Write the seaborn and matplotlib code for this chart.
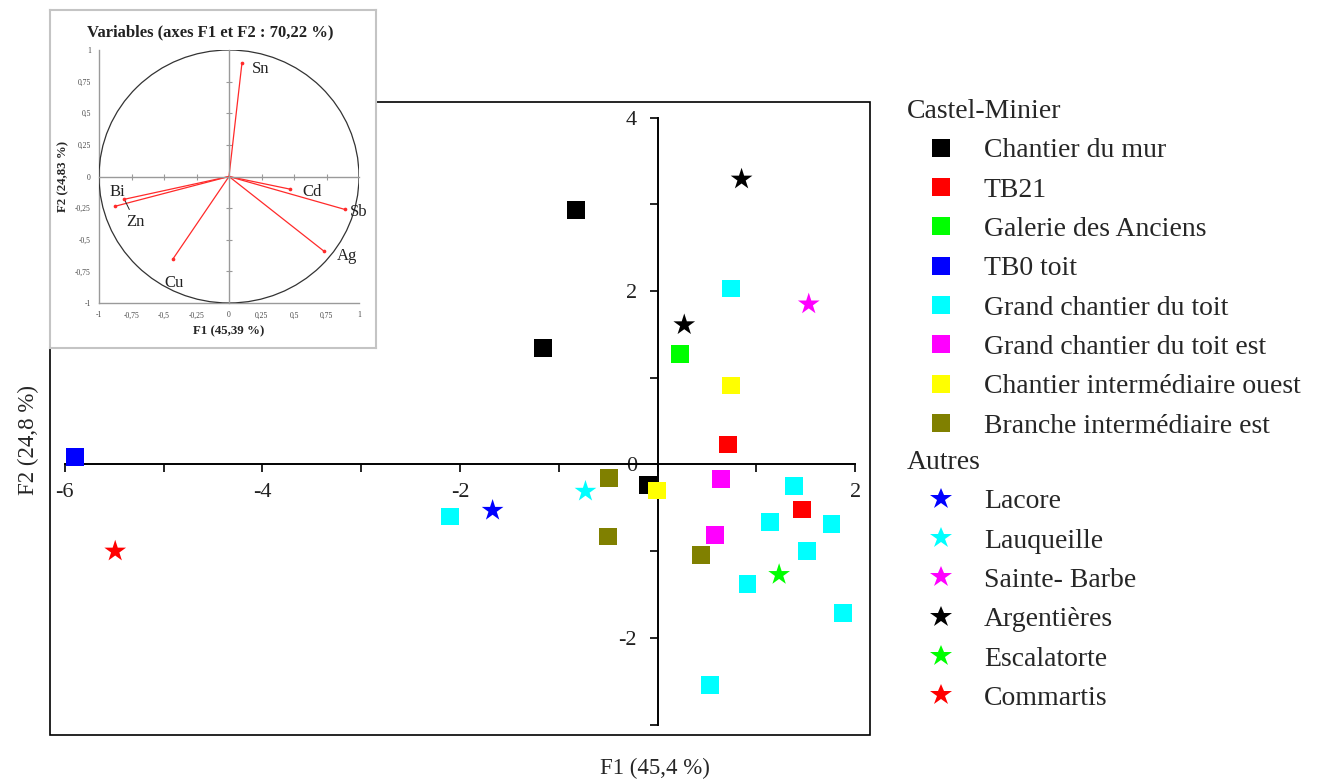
import numpy as np
import pandas as pd
import seaborn as sns
import matplotlib.pyplot as plt
from matplotlib.lines import Line2D
from matplotlib.patches import Rectangle, Circle
from matplotlib.ticker import FuncFormatter

# -----------------------------
# data
# -----------------------------
castel_sites = ["Chantier du mur", "TB21", "Galerie des Anciens", "TB0 toit",
                "Grand chantier du toit", "Grand chantier du toit est",
                "Chantier intermédiaire ouest", "Branche intermédiaire est"]
castel_colors = ["#000000", "#ff0000", "#00ff00", "#0000ff",
                 "#00ffff", "#ff00ff", "#ffff00", "#808000"]
castel_f1 = [[-0.83, -1.16, -0.10],
             [0.71, 1.46],
             [0.23],
             [-5.90],
             [-2.10, 0.74, 1.38, 1.14, 1.76, 1.51, 0.91, 1.88, 0.53],
             [0.64, 0.58],
             [0.74, -0.01],
             [-0.49, -0.50, 0.44]]
castel_f2 = [[2.93, 1.34, -0.24],
             [0.23, -0.52],
             [1.27],
             [0.09],
             [-0.60, 2.03, -0.25, -0.66, -0.69, -1.00, -1.38, -1.71, -2.54],
             [-0.17, -0.81],
             [0.91, -0.30],
             [-0.16, -0.83, -1.04]]

autres_sites = ["Lacore", "Lauqueille", "Sainte- Barbe", "Argentières",
                "Escalatorte", "Commartis"]
autres_colors = ["#0000ff", "#00ffff", "#ff00ff", "#000000", "#00ff00", "#ff0000"]
autres_f1 = [[-1.67], [-0.73], [1.53], [0.85, 0.27], [1.23], [-5.49]]
autres_f2 = [[-0.53], [-0.31], [1.85], [3.29, 1.61], [-1.27], [-1.00]]

x_ticks = [-6, -4, -2, 0, 2]
x_tick_labels = ["-6", "-4", "-2", "", "2"]
y_ticks = [-2, 0, 2, 4]
y_tick_labels = ["-2", "0", "2", "4"]

# cercle des corrélations
var_names = ["Sn", "Cd", "Sb", "Ag", "Cu", "Bi", "Zn"]
var_f1 = [0.10, 0.47, 0.89, 0.73, -0.43, -0.875, -0.805]
var_f2 = [0.90, -0.10, -0.26, -0.59, -0.65, -0.235, -0.18]
var_lab_x = [0.24, 0.64, 1.00, 0.91, -0.42, -0.86, -0.72]
var_lab_y = [0.85, -0.12, -0.28, -0.63, -0.84, -0.12, -0.36]
circle_ticks = [-1, -0.75, -0.5, -0.25, 0, 0.25, 0.5, 0.75, 1]

# -----------------------------
# tables
# -----------------------------
rows = []
for site, xs, ys in zip(castel_sites, castel_f1, castel_f2):
    for a, b in zip(xs, ys):
        rows.append({"F1": a, "F2": b, "site": site})
df_castel = pd.DataFrame(rows)

rows = []
for site, xs, ys in zip(autres_sites, autres_f1, autres_f2):
    for a, b in zip(xs, ys):
        rows.append({"F1": a, "F2": b, "site": site})
df_autres = pd.DataFrame(rows)

# -----------------------------
# figure
# -----------------------------
sns.set_theme(style="white")
plt.rcParams["font.family"] = ["Liberation Serif", "DejaVu Serif"]

W, H = 1332, 780
fig = plt.figure(figsize=(W / 100, H / 100), dpi=100)
ax = fig.add_axes([50 / W, 1 - 735 / H, 820 / W, 633 / H])

sns.scatterplot(data=df_castel, x="F1", y="F2", hue="site",
                palette=dict(zip(castel_sites, castel_colors)),
                marker="s", s=165, linewidth=0, legend=False, zorder=3, ax=ax)
sns.scatterplot(data=df_autres, x="F1", y="F2", hue="site",
                palette=dict(zip(autres_sites, autres_colors)),
                marker="*", s=270, linewidth=0, legend=False, zorder=3, ax=ax)

ax.set_xlim(-6.15, 2.15)
ax.set_ylim(-3.12, 4.18)

for side in ["top", "right"]:
    ax.spines[side].set_visible(False)
ax.spines["left"].set_position(("data", 0))
ax.spines["bottom"].set_position(("data", 0))
ax.spines["left"].set_bounds(-3, 4)
ax.spines["bottom"].set_bounds(-6, 2)
for side in ["left", "bottom"]:
    ax.spines[side].set_color("black")
    ax.spines[side].set_linewidth(1.4)

ax.set_xticks(x_ticks)
ax.set_xticklabels(x_tick_labels)
ax.set_xticks([-5, -3, -1, 1], minor=True)
ax.set_yticks(y_ticks)
ax.set_yticklabels(y_tick_labels)
ax.set_yticks([-3, -1, 1, 3], minor=True)
ax.tick_params(which="both", direction="out", length=6, width=1.2,
               color="black", labelsize=16, labelcolor="#222222",
               left=True, bottom=True)
ax.tick_params(axis="x", pad=7)
ax.tick_params(axis="y", pad=9)

ax.add_patch(Rectangle((0, 0), 1, 1, transform=ax.transAxes, fill=False,
                       ec="black", lw=1.2, clip_on=False, zorder=0))

ax.set_xlabel("F1 (45,4 %)", fontsize=16.5)
ax.xaxis.set_label_coords(0.738, -0.036)
ax.set_ylabel("F2 (24,8 %)", fontsize=16.5)
ax.yaxis.set_label_coords(-0.013, 0.466)

# -----------------------------
# legends
# -----------------------------
h1 = [Line2D([], [], marker="s", color=c, markersize=12.7, linestyle="none",
             markeredgewidth=0) for c in castel_colors]
h2 = [Line2D([], [], marker="*", color=c, markersize=16.5, linestyle="none",
             markeredgewidth=0) for c in autres_colors]
leg_kw = dict(loc="upper left", frameon=False, borderpad=0, borderaxespad=0,
              fontsize=20, title_fontsize=20, handlelength=2.45,
              handletextpad=0.32, labelspacing=0.5, alignment="left")
leg1 = fig.legend(h1, castel_sites, title="Castel-Minier",
                  bbox_to_anchor=(907 / W, 1 - 99 / H), **leg_kw)
leg2 = fig.legend(h2, autres_sites, title="Autres",
                  bbox_to_anchor=(907 / W, 1 - 450 / H), **leg_kw)

# -----------------------------
# inset : cercle des corrélations
# -----------------------------
panel = fig.add_axes([50 / W, 1 - 348 / H, 326 / W, 338 / H])
panel.set_xticks([])
panel.set_yticks([])
panel.set_facecolor("white")
for s in panel.spines.values():
    s.set_color("#c4c4c4")
    s.set_linewidth(1.5)

fmt = FuncFormatter(lambda v, p: f"{v:g}".replace(".", ","))
cax = fig.add_axes([99 / W, 1 - 303 / H, 260 / W, 253 / H])
cax.set_xlim(-1, 1)
cax.set_ylim(-1, 1)
cax.set_facecolor("none")
for side in ["top", "right"]:
    cax.spines[side].set_visible(False)
for side in ["left", "bottom"]:
    cax.spines[side].set_color("#9a9a9a")
    cax.spines[side].set_linewidth(1.0)
cax.set_xticks(circle_ticks)
cax.set_yticks(circle_ticks)
cax.xaxis.set_major_formatter(fmt)
cax.yaxis.set_major_formatter(fmt)
cax.tick_params(length=0, pad=6, labelsize=5.5, labelcolor="#444444",
                left=True, bottom=True)
cax.set_xlabel("F1 (45,39 %)", fontsize=9.3, fontweight="bold", labelpad=4)
cax.set_ylabel("F2 (24,83 %)", fontsize=9.3, fontweight="bold", labelpad=4)

# axes centraux avec graduations
cax2 = fig.add_axes([99 / W, 1 - 303 / H, 260 / W, 253 / H])
cax2.set_xlim(-1, 1)
cax2.set_ylim(-1, 1)
cax2.set_facecolor("none")
for side in ["top", "right"]:
    cax2.spines[side].set_visible(False)
cax2.spines["left"].set_position(("data", 0))
cax2.spines["bottom"].set_position(("data", 0))
for side in ["left", "bottom"]:
    cax2.spines[side].set_color("#9a9a9a")
    cax2.spines[side].set_linewidth(1.0)
cax2.set_xticks(circle_ticks[1:-1])
cax2.set_yticks(circle_ticks[1:-1])
cax2.tick_params(direction="inout", length=4, width=0.8, color="#9a9a9a",
                 labelleft=False, labelbottom=False, left=True, bottom=True)

cax2.add_patch(Circle((0, 0), 1, fill=False, ec="#333333", lw=0.9))
for x, y in zip(var_f1, var_f2):
    cax2.plot([0, x], [0, y], color="#ff2a2a", lw=0.9)
sns.scatterplot(x=var_f1, y=var_f2, color="#ff2a2a", s=7, linewidth=0,
                zorder=4, ax=cax2)
for name, lx, ly, x, y in zip(var_names, var_lab_x, var_lab_y, var_f1, var_f2):
    if name == "Zn":
        cax2.annotate(name, xy=(x, y), xytext=(lx, ly), fontsize=12,
                      ha="center", va="center", color="#222222",
                      arrowprops=dict(arrowstyle="-", color="#222222", lw=0.7,
                                      shrinkA=1, shrinkB=0))
    else:
        cax2.text(lx, ly, name, fontsize=12, ha="center", va="center",
                  color="#222222")

fig.text(210 / W, 1 - 32 / H, "Variables (axes F1 et F2 : 70,22 %)",
         fontsize=12, fontweight="bold", ha="center", va="center",
         color="#222222")

fig.savefig("out.png", dpi=100)
